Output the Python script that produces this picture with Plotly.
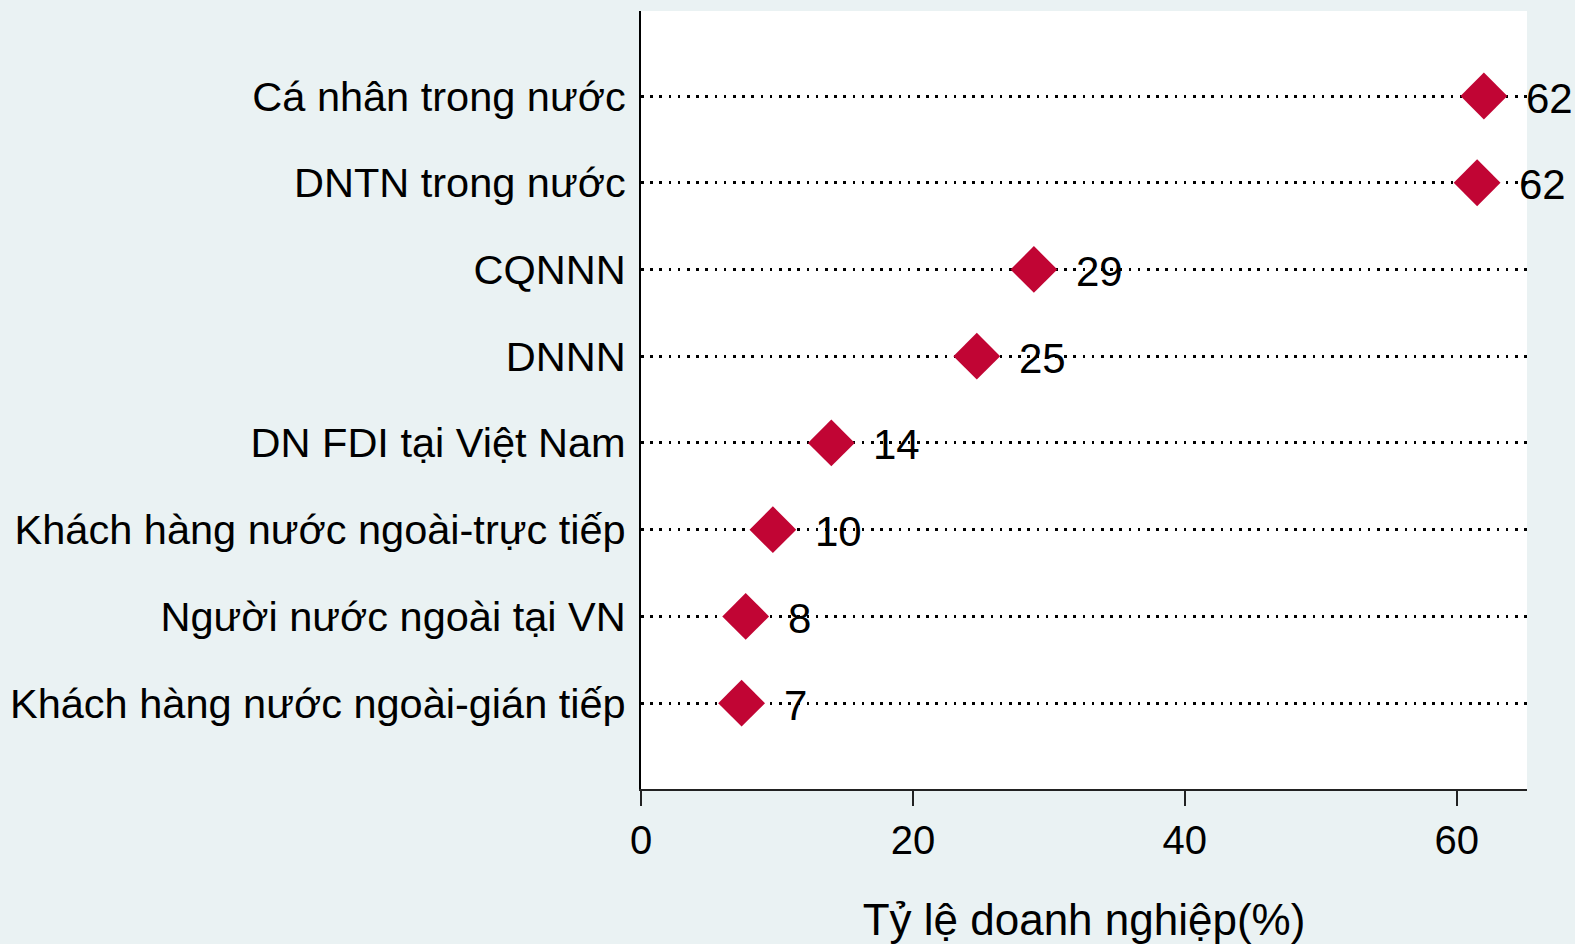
import plotly.graph_objects as go

categories = [
    "Cá nhân trong nước",
    "DNTN trong nước",
    "CQNNN",
    "DNNN",
    "DN FDI tại Việt Nam",
    "Khách hàng nước ngoài-trực tiếp",
    "Người nước ngoài tại VN",
    "Khách hàng nước ngoài-gián tiếp",
]
values = [62.0, 61.5, 28.9, 24.7, 14.0, 9.7, 7.7, 7.4]
value_labels = ["62", "62", "29", "25", "14", "10", "8", "7"]
x_ticks = [0, 20, 40, 60]

FONT = "Liberation Sans, Arial, Helvetica, sans-serif"
BG = "#EAF2F3"
RED = "#C10534"

fig = go.Figure()
fig.add_trace(go.Scatter(
    x=values, y=categories, mode="markers",
    marker=dict(symbol="diamond", size=36, color=RED, line=dict(width=0)),
    showlegend=False, hoverinfo="skip",
))

annotations = []
for cat, v, lab in zip(categories, values, value_labels):
    annotations.append(dict(
        x=v, y=cat, xref="x", yref="y", text=lab, showarrow=False,
        xanchor="left", yanchor="middle", xshift=40, yshift=-2,
        font=dict(family=FONT, size=42, color="black"),
    ))

fig.update_layout(
    width=1575, height=944,
    paper_bgcolor=BG, plot_bgcolor="white",
    margin=dict(l=641, r=48, t=11, b=155, pad=0, autoexpand=False),
    font=dict(family=FONT, size=42, color="black"),
    annotations=annotations,
    xaxis=dict(
        automargin=False,
        range=[0, 65.17], tickvals=x_ticks, ticktext=[str(t) for t in x_ticks],
        showgrid=False, zeroline=False,
        showline=True, linecolor="#222222", linewidth=2,
        ticks="outside", ticklen=15, tickwidth=2, tickcolor="#222222",
        tickfont=dict(family=FONT, size=40, color="black"),
        title=dict(text="Tỷ lệ doanh nghiệp(%)", standoff=43,
                   font=dict(family=FONT, size=44, color="black")),
    ),
    yaxis=dict(
        automargin=False,
        type="category", categoryorder="array", categoryarray=categories,
        range=[7.99, -0.98],
        showgrid=True, gridcolor="black", gridwidth=2.5, griddash="2.5px,6.7px",
        zeroline=False,
        showline=True, linecolor="black", linewidth=2,
        ticks="", ticklabelstandoff=5,
        tickfont=dict(family=FONT, size=41.5, color="black"),
    ),
)

fig.write_html(
    "out.html",
    config={"displayModeBar": False},
    post_script="document.body.style.margin='0';document.body.style.padding='0';document.body.style.overflow='hidden';",
)
